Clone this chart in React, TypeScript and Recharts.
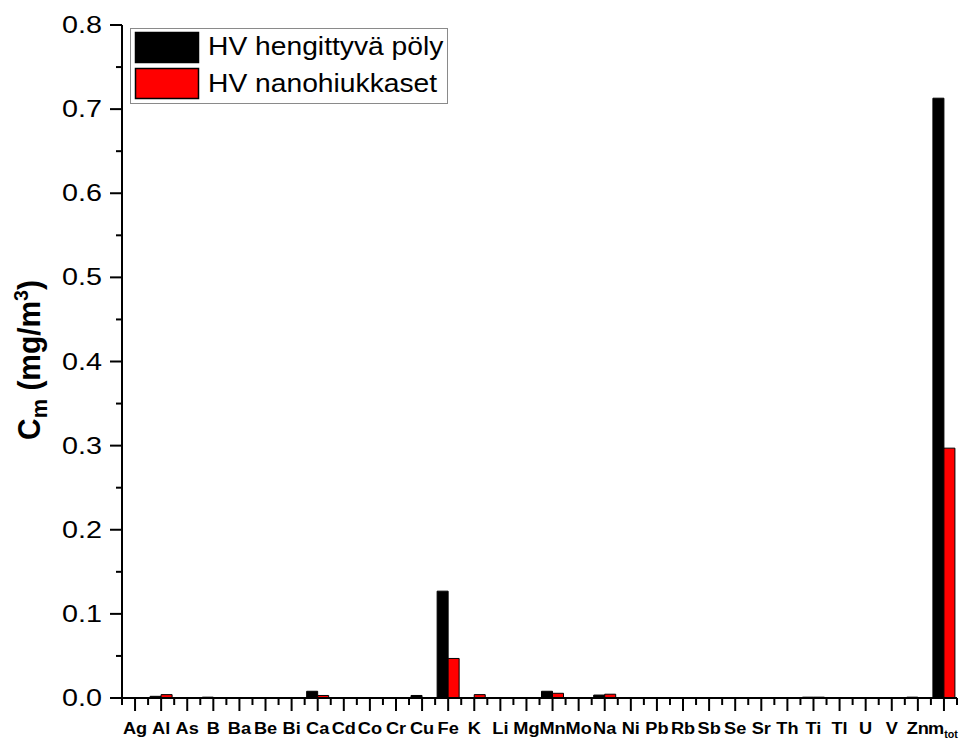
import React from "react";
import { BarChart, Bar, XAxis, YAxis } from "recharts";

const categories = ["Ag","Al","As","B","Ba","Be","Bi","Ca","Cd","Co","Cr","Cu","Fe","K","Li","Mg","Mn","Mo","Na","Ni","Pb","Rb","Sb","Se","Sr","Th","Ti","Tl","U","V","Zn","m_tot"];
const respirableDust = [0,0.002,0,0.001,0,0,0,0.008,0,0,0,0.003,0.127,0,0,0,0.008,0,0.0035,0,0,0,0,0,0,0,0.001,0,0,0,0.001,0.713];
const nanoparticles = [0,0.004,0,0,0,0,0,0.003,0,0,0,0,0.047,0.004,0,0,0.0056,0,0.0045,0,0,0,0,0,0,0,0.001,0,0,0,0,0.297];
const yTicks = [0,0.05,0.1,0.15,0.2,0.25,0.3,0.35,0.4,0.45,0.5,0.55,0.6,0.65,0.7,0.75,0.8];
const yMajorLabels = ["0.0","0.1","0.2","0.3","0.4","0.5","0.6","0.7","0.8"];
const seriesNames = ["HV hengittyvä pöly", "HV nanohiukkaset"];

const data = categories.map((c, i) => ({ name: c, a: respirableDust[i], b: nanoparticles[i] }));

const W = 964;
const H = 740;
const LEFT = 122;
const RIGHT_M = 7;
const TOP = 25;
const XH = 42;
const BAND = (W - LEFT - RIGHT_M) / categories.length;
const FONT = "'Liberation Sans', Arial, sans-serif";

const XTick = (props: any) => {
  const { x, y, payload, index } = props;
  const label: string = payload.value;
  const isLast = index === categories.length - 1;
  return (
    <g>
      <line x1={x} x2={x} y1={y} y2={y + 13} stroke="#000" strokeWidth={2} />
      <line x1={x - BAND / 2} x2={x - BAND / 2} y1={y} y2={y + 7} stroke="#000" strokeWidth={2} />
      {isLast && <line x1={x + BAND / 2} x2={x + BAND / 2} y1={y} y2={y + 7} stroke="#000" strokeWidth={2} />}
      <text
        transform={`translate(${isLast ? x - 1 : x},${y + 36}) scale(1.07,1)`}
        textAnchor="middle"
        fontFamily={FONT}
        fontWeight="bold"
        fontSize={17}
        fill="#000"
      >
        {label === "m_tot" ? (
          <>
            <tspan>m</tspan>
            <tspan dy={4} fontSize={10}>tot</tspan>
          </>
        ) : label}
      </text>
    </g>
  );
};

const YTick = (props: any) => {
  const { x, y, payload } = props;
  const v: number = payload.value;
  const idx = Math.round(v * 20);
  const major = idx % 2 === 0;
  return (
    <g>
      <line x1={major ? x - 12 : x - 6} x2={x} y1={y} y2={y} stroke="#000" strokeWidth={2} />
      {major && (
        <text
          transform={`translate(${x - 20},${y + 8}) scale(1.25,1)`}
          textAnchor="end"
          fontFamily={FONT}
          fontSize={23}
          fill="#000"
        >
          {yMajorLabels[idx / 2]}
        </text>
      )}
    </g>
  );
};

const TitleLabel = () => (
  <text
    transform="translate(40,360) rotate(-90) scale(1.15,1.2)"
    textAnchor="middle"
    fontFamily={FONT}
    fontWeight="bold"
    fontSize={26}
    fill="#000"
  >
    <tspan>C</tspan>
    <tspan dy={6} fontSize={19}>m</tspan>
    <tspan dy={-6}> (mg/m</tspan>
    <tspan dy={-10} fontSize={17}>3</tspan>
    <tspan dy={10}>)</tspan>
  </text>
);

const LegendBox = () => (
  <svg width={319} height={77} style={{ display: "block", position: "absolute", left: 130, top: 28 }}>
    <rect x={0.5} y={0.5} width={317} height={75} fill="#fff" stroke="#8a8a8a" strokeWidth={1} />
    <rect x={5.5} y={4.5} width={63} height={30} fill="#000" stroke="#000" strokeWidth={1.5} />
    <rect x={5.5} y={40.5} width={63} height={30} fill="#ff0000" stroke="#000" strokeWidth={1.5} />
    <text transform="translate(78,27) scale(1.13,1)" fontFamily={FONT} fontSize={25} fill="#000">{seriesNames[0]}</text>
    <text transform="translate(78,64) scale(1.13,1)" fontFamily={FONT} fontSize={25} fill="#000">{seriesNames[1]}</text>
  </svg>
);

export default function App() {
  return (
    <div style={{ position: "absolute", left: 0, top: 0, width: W, height: H, background: "#fff" }}>
      <BarChart
        width={W}
        height={H}
        data={data}
        margin={{ top: TOP, right: RIGHT_M, bottom: 0, left: 0 }}
        barSize={11}
        barGap={0}
      >
        <XAxis
          dataKey="name"
          height={XH}
          interval={0}
          tickLine={false}
          tickSize={0}
          tickMargin={0}
          axisLine={{ stroke: "#000", strokeWidth: 2 }}
          tick={<XTick />}
        />
        <YAxis
          type="number"
          width={LEFT}
          domain={[0, 0.8]}
          ticks={yTicks}
          interval={0}
          tickLine={false}
          tickSize={0}
          tickMargin={0}
          axisLine={{ stroke: "#000", strokeWidth: 2 }}
          tick={<YTick />}
          label={<TitleLabel />}
        />
        <Bar dataKey="a" name={seriesNames[0]} fill="#000000" stroke="#000" strokeWidth={1} isAnimationActive={false} />
        <Bar dataKey="b" name={seriesNames[1]} fill="#ff0000" stroke="#000" strokeWidth={1} isAnimationActive={false} />
      </BarChart>
      <LegendBox />
    </div>
  );
}
